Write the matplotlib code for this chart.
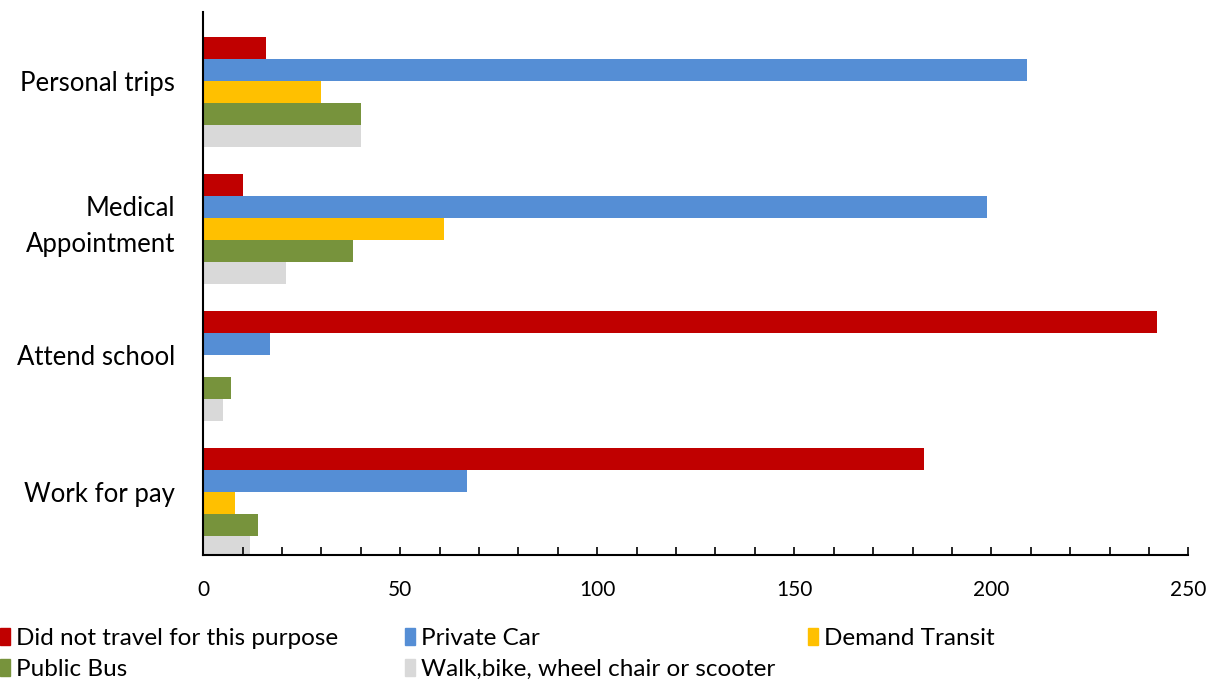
import numpy as np
import matplotlib
matplotlib.use("Agg")
import matplotlib.pyplot as plt
from matplotlib.patches import Patch

plt.rcParams['font.family'] = ['Lato', 'DejaVu Sans']

# categories listed bottom to top
categories = ['Work for pay', 'Attend school', 'Medical\nAppointment', 'Personal trips']

did_not_travel = [183, 242, 10, 16]
private_car = [67, 17, 199, 209]
demand_transit = [8, 0, 61, 30]
public_bus = [14, 7, 38, 40]
walk_bike = [12, 5, 21, 40]

series = [
    ('Did not travel for this purpose', did_not_travel, '#c00000'),
    ('Private Car', private_car, '#558ed5'),
    ('Demand Transit', demand_transit, '#ffc000'),
    ('Public Bus', public_bus, '#77933c'),
    ('Walk,bike, wheel chair or scooter', walk_bike, '#d9d9d9'),
]

fig = plt.figure(figsize=(12.09, 6.81), dpi=100)
ax = fig.add_axes([0.168, 0.185, 0.815, 0.797])

y = np.arange(len(categories))
h = 0.161
for i, (name, vals, col) in enumerate(series):
    ax.barh(y + (2 - i) * h, vals, height=h, color=col, label=name)

ax.set_xlim(0, 250)
ax.set_ylim(-0.38, 3.584)
ax.set_xticks(range(0, 251, 50))
ax.set_xticks(range(0, 251, 10), minor=True)
ax.set_yticks(y + 0.08)
ax.set_yticklabels(categories, fontsize=18.5, linespacing=1.55)
ax.tick_params(axis='y', length=0, pad=20)
ax.tick_params(axis='x', which='both', direction='in', length=6, width=1.2, labelsize=15, pad=18)
ax.spines['top'].set_visible(False)
ax.spines['right'].set_visible(False)
ax.spines['left'].set_linewidth(1.5)
ax.spines['bottom'].set_linewidth(1.5)

handles = [Patch(color=c, label=n) for n, v, c in series]
columns = [([0, 3], 0.0), ([1, 4], 405 / 1209), ([2], 808 / 1209)]
for idx, x0 in columns:
    leg = fig.legend([handles[k] for k in idx], [handles[k].get_label() for k in idx],
                     loc='upper left', bbox_to_anchor=(x0, 0.078), ncol=1, frameon=False,
                     fontsize=17.5, handlelength=0.4, handleheight=0.7, handletextpad=0.25,
                     labelspacing=0.4, borderpad=0, borderaxespad=0)

fig.savefig('out.png', dpi=100)
